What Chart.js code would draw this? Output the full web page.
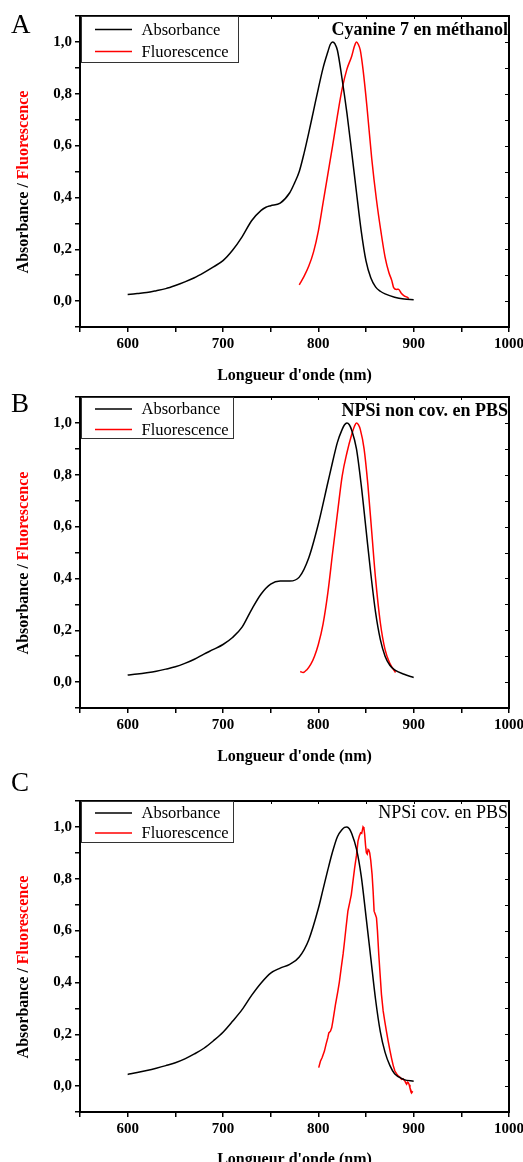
<!DOCTYPE html>
<html>
<head>
<meta charset="utf-8">
<script src="https://cdn.jsdelivr.net/npm/chart.js@4.4.1/dist/chart.umd.min.js"></script>
<style>
html, body { margin: 0; padding: 0; background: #fff; overflow: hidden; }
body { width: 523px; height: 1162px; position: relative; }
canvas { position: absolute; left: 0; }
</style>
</head>
<body>
<canvas id="chartA" width="523" height="387" style="top:0px"></canvas>
<canvas id="chartB" width="523" height="388" style="top:380px"></canvas>
<canvas id="chartC" width="523" height="412" style="top:760px"></canvas>
<script>
// tick labels
const xTickLabels = [600, 700, 800, 900, 1000];
const yTickLabels = [0, 0.2, 0.4, 0.6, 0.8, 1.0];

// A - Cyanine 7 en methanol
const absWlA = [600, 610, 620, 630, 640, 650, 660, 670, 680, 690, 700, 710, 720, 730, 740, 745, 750, 760, 770, 775,
                780, 785, 790, 795, 800, 805, 810, 812.5, 815, 817.5, 820, 825, 830, 835, 840, 845, 850, 855, 860, 865, 870, 880, 890, 900];
const absA = [0.025, 0.029, 0.033, 0.040, 0.048, 0.060, 0.074, 0.090, 0.110, 0.132, 0.156, 0.196, 0.248, 0.310, 0.350, 0.362, 0.368, 0.378, 0.418, 0.455,
              0.500, 0.570, 0.650, 0.735, 0.820, 0.900, 0.962, 0.990, 1.000, 0.992, 0.968, 0.855, 0.725, 0.575, 0.420, 0.270, 0.155, 0.090, 0.055, 0.038, 0.028, 0.015, 0.008, 0.005];
const fluoWlA = [780, 785, 790, 795, 800, 805, 810, 815, 820, 825, 830, 835, 838, 840, 842, 844, 847, 851, 856, 861, 866, 870,
                 874, 877, 879, 882, 884, 887, 890, 893, 895];
const fluoA = [0.063, 0.095, 0.135, 0.19, 0.27, 0.38, 0.49, 0.60, 0.715, 0.82, 0.895, 0.945, 0.985, 1.0, 0.99, 0.968, 0.89, 0.75, 0.55, 0.39, 0.26, 0.17,
               0.11, 0.08, 0.052, 0.045, 0.046, 0.03, 0.02, 0.015, 0.01];

// B - NPSi non cov. en PBS
const absWlB = [600, 610, 620, 630, 640, 650, 660, 670, 680, 690, 700, 710, 720, 730, 740, 750, 760, 770, 780, 790,
                800, 810, 815, 820, 825, 827.5, 830, 832.5, 835, 840, 845, 850, 855, 860, 865, 870, 875, 880, 890, 900];
const absB = [0.027, 0.031, 0.036, 0.042, 0.050, 0.059, 0.072, 0.088, 0.108, 0.126, 0.145, 0.172, 0.212, 0.280, 0.340, 0.378, 0.390, 0.390, 0.405, 0.480,
              0.610, 0.770, 0.850, 0.925, 0.975, 0.993, 1.000, 0.993, 0.972, 0.900, 0.760, 0.590, 0.420, 0.270, 0.165, 0.100, 0.065, 0.047, 0.030, 0.018];
const fluoWlB = [781, 784, 788, 792, 796, 800, 805, 810, 815, 820, 825, 830, 835, 838, 840, 842, 844, 848, 852, 856, 860, 865, 870, 875, 881];
const fluoB = [0.041, 0.037, 0.048, 0.068, 0.1, 0.145, 0.225, 0.345, 0.5, 0.65, 0.795, 0.885, 0.955, 0.988, 1.0, 0.993, 0.975, 0.9, 0.76, 0.58, 0.4, 0.23, 0.125, 0.072, 0.037];

// C - NPSi cov. en PBS
const absWlC = [600, 610, 620, 630, 640, 650, 660, 670, 680, 690, 700, 710, 720, 730, 740, 750, 760, 770, 780, 790,
                800, 805, 810, 815, 820, 825, 827.5, 830, 832.5, 835, 840, 845, 850, 855, 860, 865, 870, 875, 880, 890, 900];
const absC = [0.045, 0.052, 0.060, 0.069, 0.079, 0.090, 0.105, 0.124, 0.146, 0.175, 0.208, 0.250, 0.295, 0.350, 0.398, 0.436, 0.455, 0.470, 0.498, 0.565,
              0.685, 0.760, 0.835, 0.905, 0.962, 0.990, 0.998, 1.000, 0.993, 0.975, 0.915, 0.810, 0.655, 0.495, 0.335, 0.210, 0.130, 0.080, 0.048, 0.025, 0.019];
const fluoWlC = [800.4, 802.2, 804, 806.4, 808, 809.9, 811, 812.7, 814, 815.2, 818, 820.5, 822, 824, 826, 827.5, 829, 831, 833, 834.6,
                 836, 838.1, 840, 841.6, 843, 844.4, 845.5, 846.9, 847.8, 848.6, 849.5, 850.4, 851.3, 852.2, 853, 853.9, 855, 856.4, 857.5, 858.5,
                 860, 861, 862, 863.4, 865, 866.2, 868, 869.7, 871.5, 873.2, 875, 876.7, 878.5, 880.3, 882, 883.8, 885.5, 887.3, 889, 890.8,
                 891.7, 892.6, 893.5, 894.4, 895.3, 896.1, 897, 897.9, 899];
const fluoC = [0.071, 0.096, 0.11, 0.135, 0.16, 0.186, 0.205, 0.212, 0.225, 0.25, 0.315, 0.366, 0.40, 0.456, 0.51, 0.559, 0.61, 0.675, 0.71, 0.739,
               0.78, 0.842, 0.89, 0.945, 0.965, 0.977, 0.975, 1.0, 0.995, 0.971, 0.93, 0.9, 0.895, 0.913, 0.91, 0.9, 0.87, 0.816, 0.75, 0.675,
               0.66, 0.649, 0.6, 0.508, 0.42, 0.354, 0.29, 0.25, 0.21, 0.174, 0.14, 0.109, 0.08, 0.058, 0.048, 0.039, 0.035, 0.026, 0.028, 0.02,
               0.012, 0.007, 0.015, 0.013, 0.005, -0.007, -0.015, -0.026, -0.02];

const SERIF = '"Liberation Serif", "Times New Roman", serif';

function toPoints(xs, ys) {
    return xs.map((x, i) => ({x: x, y: ys[i]}));
}

// frame, inner ticks, legend, titles
function decorPlugin(cfg) {
    return {
        id: 'decor' + cfg.letter,
        afterDraw(chart) {
            const {ctx, chartArea: a, scales: {x, y}} = chart;
            ctx.save();
            ctx.strokeStyle = '#000';
            ctx.lineWidth = 2;
            ctx.strokeRect(a.left, a.top, a.right - a.left, a.bottom - a.top);

            ctx.lineWidth = 1;
            ctx.beginPath();
            y.ticks.forEach(t => {
                const py = Math.round(y.getPixelForValue(t.value)) + 0.5;
                ctx.moveTo(a.right - 4, py);
                ctx.lineTo(a.right, py);
            });
            x.ticks.forEach(t => {
                const px = Math.round(x.getPixelForValue(t.value)) + 0.5;
                ctx.moveTo(px, a.top);
                ctx.lineTo(px, a.top + 3);
            });
            ctx.stroke();

            // legend
            const lx = a.left + 1;
            ctx.fillStyle = '#fff';
            ctx.fillRect(lx, a.top + 1, cfg.legendRight - lx, cfg.legendH - 1);
            ctx.strokeStyle = '#333';
            ctx.lineWidth = 1;
            ctx.strokeRect(lx + 0.5, a.top + 0.5, cfg.legendRight - lx, cfg.legendH);
            ctx.font = '16.5px ' + SERIF;
            ctx.textBaseline = 'middle';
            ctx.textAlign = 'left';
            chart.data.datasets.forEach((ds, i) => {
                const ry = a.top + cfg.rows[i];
                ctx.strokeStyle = ds.borderColor;
                ctx.lineWidth = 1.5;
                ctx.beginPath();
                ctx.moveTo(95, ry);
                ctx.lineTo(132, ry);
                ctx.stroke();
                ctx.fillStyle = '#000';
                ctx.fillText(ds.label, 141.5, ry + 1);
            });

            // panel title
            ctx.fillStyle = '#000';
            ctx.font = (cfg.titleBold ? 'bold ' : '') + '18px ' + SERIF;
            ctx.textAlign = 'right';
            ctx.textBaseline = 'alphabetic';
            ctx.fillText(cfg.title, a.right - 1, a.top + cfg.titleDy);

            // panel letter
            ctx.font = '27px ' + SERIF;
            ctx.textAlign = 'left';
            ctx.fillText(cfg.letter, 11, cfg.letterY);

            // y axis title, two colours
            ctx.font = 'bold 16px ' + SERIF;
            const p1 = 'Absorbance / ', p2 = 'Fluorescence';
            const w1 = ctx.measureText(p1).width, w2 = ctx.measureText(p2).width;
            ctx.translate(24, a.top + 166);
            ctx.rotate(-Math.PI / 2);
            ctx.textBaseline = 'middle';
            ctx.textAlign = 'left';
            ctx.fillStyle = '#000';
            ctx.fillText(p1, -(w1 + w2) / 2, 0);
            ctx.fillStyle = '#ff0000';
            ctx.fillText(p2, -(w1 + w2) / 2 + w1, 0);
            ctx.restore();
        }
    };
}

function makePanel(cfg) {
    const tickFont = {family: SERIF, size: 15, weight: 'bold'};
    return new Chart(document.getElementById(cfg.id), {
        type: 'line',
        data: {
            datasets: [
                {
                    label: 'Absorbance',
                    data: toPoints(cfg.absWl, cfg.abs),
                    borderColor: '#000',
                    borderWidth: 1.5,
                    pointRadius: 0,
                    cubicInterpolationMode: 'monotone'
                },
                {
                    label: 'Fluorescence',
                    data: toPoints(cfg.fluoWl, cfg.fluo),
                    borderColor: '#ff0000',
                    borderWidth: 1.5,
                    pointRadius: 0,
                    cubicInterpolationMode: cfg.noisy ? 'default' : 'monotone',
                    tension: 0
                }
            ]
        },
        options: {
            responsive: false,
            animation: false,
            layout: {padding: {left: 0, right: 14, top: cfg.padTop, bottom: 0}},
            plugins: {legend: {display: false}, tooltip: {enabled: false}},
            scales: {
                x: {
                    type: 'linear',
                    min: 550,
                    max: 1000,
                    ticks: {
                        stepSize: 50,
                        autoSkip: false,
                        maxRotation: 0,
                        padding: 3,
                        color: '#000',
                        font: tickFont,
                        callback: v => xTickLabels.includes(v) ? String(v) : ''
                    },
                    grid: {drawOnChartArea: false, drawTicks: true, tickLength: 5, color: '#000', lineWidth: 1.5},
                    border: {display: true, color: '#000', width: 2},
                    title: {
                        display: true,
                        text: "Longueur d'onde (nm)",
                        color: '#000',
                        font: {family: SERIF, size: 16, weight: 'bold'},
                        padding: {top: 0, bottom: cfg.xTitlePad}
                    },
                    afterFit: s => { s.height = 60; s.paddingLeft = 0; s.paddingRight = 0; }
                },
                y: {
                    min: -0.1,
                    max: 1.1,
                    ticks: {
                        stepSize: 0.1,
                        autoSkip: false,
                        padding: 3,
                        color: '#000',
                        font: tickFont,
                        callback: v => yTickLabels.some(t => Math.abs(t - v) < 1e-6) ? v.toFixed(1).replace('.', ',') : ''
                    },
                    grid: {drawOnChartArea: false, drawTicks: true, tickLength: 5, color: '#000', lineWidth: 1.5},
                    border: {display: true, color: '#000', width: 2},
                    afterFit: s => { s.width = 80; s.paddingTop = 0; s.paddingBottom = 0; }
                }
            }
        },
        plugins: [decorPlugin(cfg)]
    });
}

makePanel({
    id: 'chartA', letter: 'A', letterY: 33, padTop: 16, xTitlePad: 2,
    title: 'Cyanine 7 en méthanol', titleBold: true, titleDy: 19,
    legendRight: 238, legendH: 46, rows: [13.5, 35.5],
    absWl: absWlA, abs: absA, fluoWl: fluoWlA, fluo: fluoA
});

makePanel({
    id: 'chartB', letter: 'B', letterY: 31.5, padTop: 17, xTitlePad: 2,
    title: 'NPSi non cov. en PBS', titleBold: true, titleDy: 19,
    legendRight: 233, legendH: 41, rows: [12, 32.5],
    absWl: absWlB, abs: absB, fluoWl: fluoWlB, fluo: fluoB
});

makePanel({
    id: 'chartC', letter: 'C', letterY: 31, padTop: 41, xTitlePad: 3,
    title: 'NPSi cov. en PBS', titleBold: false, titleDy: 17,
    legendRight: 233, legendH: 41, rows: [12, 32],
    absWl: absWlC, abs: absC, fluoWl: fluoWlC, fluo: fluoC, noisy: true
});
</script>
</body>
</html>
